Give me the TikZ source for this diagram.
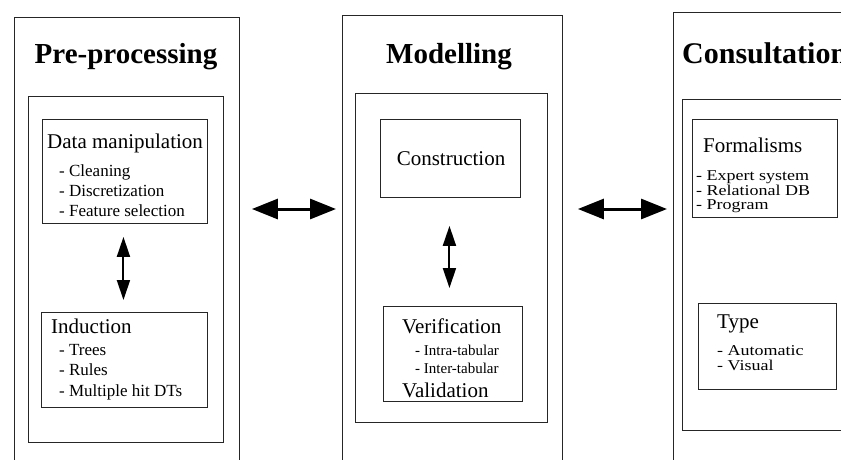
\documentclass[tikz,border=0pt]{standalone}
\usepackage{fontspec}
\setmainfont{Liberation Serif}
\newfontfamily\wideserif[FakeStretch=1.2]{Liberation Serif}
\usetikzlibrary{arrows.meta}

\tikzset{
  box/.style={draw=black!85, line width=0.9pt, inner sep=0pt, anchor=north west},
  stagetitle/.style={font=\fontsize{29}{29}\selectfont\bfseries, inner sep=0pt, anchor=base},
  head/.style={font=\fontsize{21}{21}\selectfont, inner sep=0pt, anchor=base west},
  item/.style={font=\fontsize{17}{17}\selectfont, inner sep=0pt, anchor=base west},
  smallitem/.style={font=\fontsize{15}{15}\selectfont, inner sep=0pt, anchor=base west},
  wideitem/.style={font=\wideserif\fontsize{15}{15}\selectfont, inner sep=0pt, anchor=base west},
  harrow/.style={line width=3pt, {Triangle[length=26pt,width=20pt]}-{Triangle[length=26pt,width=20pt]}},
  varrow/.style={line width=2pt, {Triangle[length=20pt,width=13pt]}-{Triangle[length=20pt,width=13pt]}},
}

\begin{document}
\begin{tikzpicture}[x=1pt,y=-1pt]
\useasboundingbox (0,0) rectangle (841,459);
\clip (0,0) rectangle (841,459);
\fill[white] (0,0) rectangle (841,459);

% ---- Pre-processing ----
\node[box, minimum width=225, minimum height=470] (pre) at (14,17) {};
\node[stagetitle] (pretitle) at (126,63) {Pre-processing};
\node[box, minimum width=195, minimum height=346] (preinner) at (28,96) {};
\node[box, minimum width=165, minimum height=104] (dm) at (42,119) {};
\node[head] (dmhead) at (47,148) {Data manipulation};
\node[item] (dm1) at (59,176) {- Cleaning};
\node[item] (dm2) at (59,196) {- Discretization};
\node[item] (dm3) at (59,216) {- Feature selection};
\node[box, minimum width=166, minimum height=95] (ind) at (41,312) {};
\node[head] (indhead) at (51,333) {Induction};
\node[item] (ind1) at (59,355) {- Trees};
\node[item] (ind2) at (59,375) {- Rules};
\node[item] (ind3) at (59,396) {- Multiple hit DTs};
\draw[varrow, shorten <=13pt, shorten >=12pt]
  ([xshift=-1.5pt]dm.south) -- ([xshift=-1.5pt]dm.south |- ind.north);

% ---- Modelling ----
\node[box, minimum width=220, minimum height=470] (mod) at (342,15) {};
\node[stagetitle] (modtitle) at (449,63) {Modelling};
\node[box, minimum width=192, minimum height=329] (modinner) at (355,93) {};
\node[box, minimum width=140, minimum height=78] (cons) at (380,119) {};
\node[head, anchor=base] (conshead) at (451,165) {Construction};
\node[box, minimum width=139, minimum height=95] (ver) at (383,306) {};
\node[head] (verhead) at (402,333) {Verification};
\node[smallitem] (ver1) at (415,355) {- Intra-tabular};
\node[smallitem] (ver2) at (415,373) {- Inter-tabular};
\node[head] (valhead) at (402,397) {Validation};
\draw[varrow, shorten <=28pt, shorten >=18pt]
  ([xshift=-1pt]cons.south) -- ([xshift=-1pt]cons.south |- ver.north);

% ---- Consultation ----
\node[box, minimum width=220, minimum height=470] (con) at (673,12) {};
\node[stagetitle, font=\fontsize{30}{30}\selectfont\bfseries, anchor=base west] (contitle) at (682,63) {Consultation};
\node[box, minimum width=200, minimum height=331] (coninner) at (682,99) {};
\node[box, minimum width=145, minimum height=98] (form) at (692,119) {};
\node[head] (formhead) at (703,152) {Formalisms};
\node[wideitem] (form1) at (696,180) {- Expert system};
\node[wideitem] (form2) at (696,195) {- Relational DB};
\node[wideitem] (form3) at (696,209) {- Program};
\node[box, minimum width=138, minimum height=86] (type) at (698,303) {};
\node[head] (typehead) at (717,328) {Type};
\node[wideitem] (type1) at (717,355) {- Automatic};
\node[wideitem] (type2) at (717,370) {- Visual};

% ---- links between the stages ----
\coordinate (ya) at (0,209);
\draw[harrow, shorten <=12pt, shorten >=6pt] (pre.east |- ya) -- (mod.west |- ya);
\draw[harrow, shorten <=15pt, shorten >=6pt] (mod.east |- ya) -- (con.west |- ya);
\end{tikzpicture}
\end{document}
